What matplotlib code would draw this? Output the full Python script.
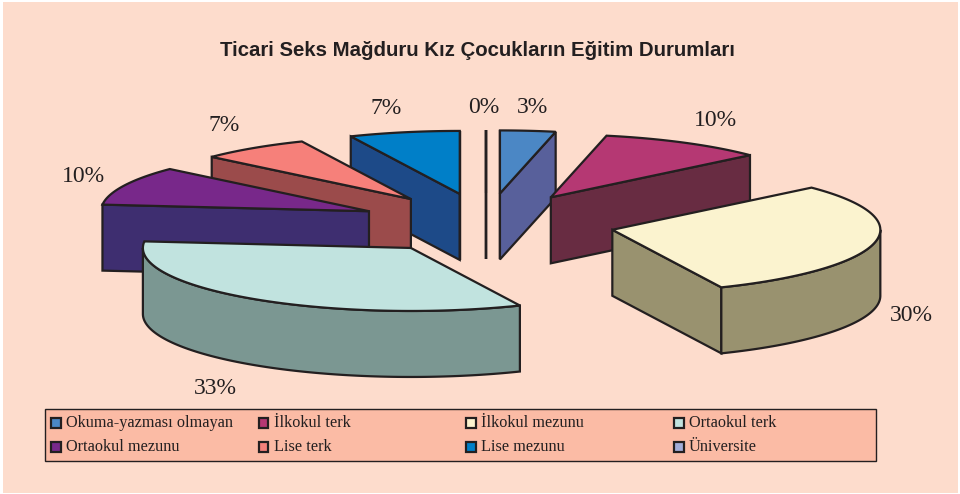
import numpy as np
import matplotlib
matplotlib.use("Agg")
import matplotlib.pyplot as plt
from matplotlib.patches import Polygon, Rectangle

title = "Ticari Seks Mağduru Kız Çocukların Eğitim Durumları"
categories = ["Okuma-yazması olmayan", "İlkokul terk", "İlkokul mezunu", "Ortaokul terk",
              "Ortaokul mezunu", "Lise terk", "Lise mezunu", "Üniversite"]
# dilim acilarindan okunan kisi sayilari (toplam 30), etiketler yuvarlanmis yuzde
values = [1, 3, 9, 10, 3, 2, 2, 0]
top_colors = ["#4B87C5", "#B53873", "#FBF3CF", "#C1E3DF", "#78288A", "#F6807A", "#007FC8", "#A1ACD8"]
side_colors = ["#58609B", "#682C42", "#99926F", "#7B9792", "#3E2E70", "#9B4B4B", "#1D4A88", "#58609B"]

# pozisyonlar piksel olarak
label_xy = [(533, 107), (715, 120), (911, 315), (215, 388), (83, 176), (224, 125), (386, 108), (484, 107)]
cx, cy = 486.5, 223.5
rx, ry = 268, 63
depth = 66
explode = 0.48
edge = "#231F20"
lw = 1.6

fig = plt.figure(figsize=(9.6, 4.94), dpi=100, facecolor="white")
ax = fig.add_axes([0, 0, 1, 1])
ax.set_xlim(0, 960)
ax.set_ylim(494, 0)
ax.axis("off")

ax.add_patch(Rectangle((3, 2), 955, 491, fc="#FDDCCC", ec="none"))
ax.text(477, 50, title, family="Liberation Sans", weight="bold", size=14.7,
        color=edge, ha="center", va="center")


def point(center, theta, r=1.0):
    t = np.radians(theta)
    return center[0] + r * rx * np.sin(t), center[1] - r * ry * np.cos(t)


def arc(center, t0, t1):
    n = max(2, int(abs(t1 - t0)) + 2)
    ts = np.linspace(t0, t1, n)
    return [point(center, t) for t in ts]


def down(pts):
    return [(x, y + depth) for x, y in pts]


total = sum(values)
ends = np.cumsum(values) * 360 / total
starts = ends - np.array(values) * 360 / total
mids = (starts + ends) / 2

# arkadan one dogru ciz
order = np.argsort(-np.cos(np.radians(mids)))
for i in order:
    t0, t1 = starts[i], ends[i]
    apex = point((cx, cy), mids[i], explode)
    style = dict(fc=side_colors[i], ec=edge, lw=lw, joinstyle="miter")

    if np.sin(np.radians(t0)) < 1e-9:
        e = [apex, point(apex, t0)]
        ax.add_patch(Polygon(e + down(e)[::-1], **style))
    if np.sin(np.radians(t1)) > -1e-9:
        e = [apex, point(apex, t1)]
        ax.add_patch(Polygon(e + down(e)[::-1], **style))
    a0, a1 = max(t0, 90), min(t1, 270)
    if a1 > a0:
        e = arc(apex, a0, a1)
        ax.add_patch(Polygon(e + down(e)[::-1], **style))

    ax.add_patch(Polygon([apex] + arc(apex, t0, t1), fc=top_colors[i], ec=edge, lw=lw, joinstyle="miter"))

for v, (x, y) in zip(values, label_xy):
    ax.text(x, y, f"{round(v / total * 100)}%", family="Liberation Serif", size=17,
            color=edge, ha="center", va="center")

# lejant
ax.add_patch(Rectangle((45, 409), 831, 52, fc="#FBBBA5", ec=edge, lw=1.0))
for i, name in enumerate(categories):
    x = 50 + 207.7 * (i % 4)
    y = 423 + 24 * (i // 4)
    ax.add_patch(Rectangle((x + 1, y - 5), 9.5, 10, fc=top_colors[i], ec=edge, lw=1.6))
    ax.text(x + 16, y, name, family="Liberation Serif", size=11.7, color=edge, ha="left", va="center")

fig.savefig("out.png", dpi=100)
